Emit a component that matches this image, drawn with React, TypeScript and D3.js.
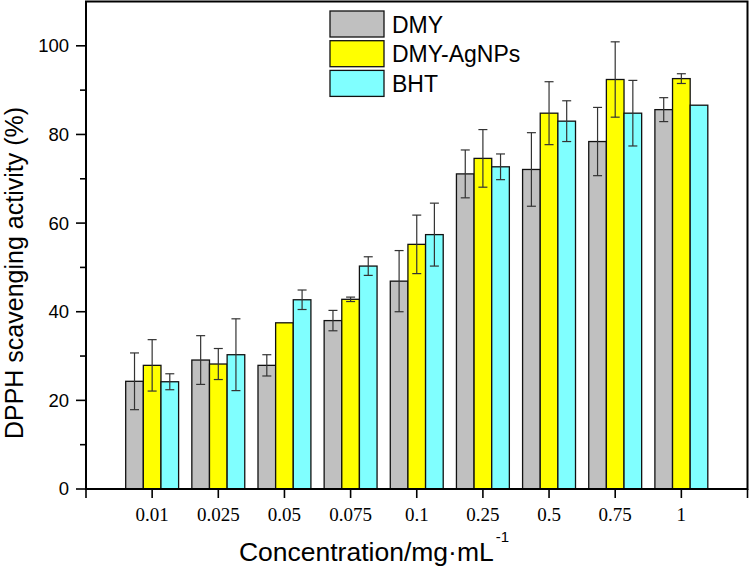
import * as React from 'react';
import * as d3 from 'd3';

const categories = ['0.01', '0.025', '0.05', '0.075', '0.1', '0.25', '0.5', '0.75', '1'];
const seriesNames = ['DMY', 'DMY-AgNPs', 'BHT'];
const seriesColors = ['#c0c0c0', '#ffff00', '#80ffff'];

const dmy = [24.3, 29.1, 27.9, 38.0, 46.9, 71.1, 72.1, 78.4, 85.6];
const dmyErr = [6.4, 5.5, 2.4, 2.3, 6.9, 5.4, 8.3, 7.7, 2.7];
const agnps = [27.9, 28.2, 37.5, 42.8, 55.2, 74.6, 84.8, 92.4, 92.6];
const agnpsErr = [5.8, 3.5, 0, 0.5, 6.6, 6.5, 7.1, 8.5, 1.1];
const bht = [24.2, 30.3, 42.7, 50.3, 57.4, 72.7, 83.0, 84.8, 86.6];
const bhtErr = [1.8, 8.1, 2.2, 2.1, 7.1, 2.9, 4.6, 7.4, 0];

const yMajorTicks = [0, 20, 40, 60, 80, 100];
const yMinorTicks = [10, 30, 50, 70, 90];

const values = [dmy, agnps, bht];
const errors = [dmyErr, agnpsErr, bhtErr];

const W = 750;
const H = 567;
const left = 86;
const right = 747.5;
const top = 1.5;
const bottom = 489;

const sans = '"Liberation Sans", Arial, sans-serif';
const serif = '"Liberation Serif", "Times New Roman", serif';

export default function App() {
  const x = d3.scaleLinear().domain([0, categories.length + 1]).range([left, right]);
  const y = d3.scaleLinear().domain([0, 110]).range([bottom, top]);
  const unit = x(1) - x(0);
  const groupW = unit * 0.8;
  const sub = d3
    .scaleBand<string>()
    .domain(seriesNames)
    .range([-groupW / 2, groupW / 2]);
  const bw = sub.bandwidth();
  const xTicks = d3.range(0, categories.length + 2);

  return (
    <svg
      width={W}
      height={H}
      style={{ position: 'absolute', left: 0, top: 0, background: '#fff' }}
    >
      {/* bars */}
      {categories.map((c, i) =>
        seriesNames.map((s, j) => {
          const bx = x(i + 1) + (sub(s) as number);
          const v = values[j][i];
          return (
            <rect
              key={c + s}
              x={bx}
              y={y(v)}
              width={bw}
              height={y(0) - y(v)}
              fill={seriesColors[j]}
              stroke='#111'
              strokeWidth={1.3}
            />
          );
        })
      )}

      {/* error bars */}
      {categories.map((c, i) =>
        seriesNames.map((s, j) => {
          const e = errors[j][i];
          if (!e) return null;
          const cx = x(i + 1) + (sub(s) as number) + bw / 2;
          const v = values[j][i];
          const y1 = y(v + e);
          const y2 = y(v - e);
          return (
            <g key={'e' + c + s} stroke='#333' strokeWidth={1.2}>
              <line x1={cx} x2={cx} y1={y1} y2={y2} />
              <line x1={cx - 4.5} x2={cx + 4.5} y1={y1} y2={y1} />
              <line x1={cx - 4.5} x2={cx + 4.5} y1={y2} y2={y2} />
            </g>
          );
        })
      )}

      {/* frame */}
      <rect
        x={left}
        y={top}
        width={right - left}
        height={bottom - top}
        fill='none'
        stroke='#000'
        strokeWidth={2}
      />

      {/* y axis ticks */}
      {yMajorTicks.map(t => (
        <g key={'y' + t}>
          <line x1={left - 10} x2={left} y1={y(t)} y2={y(t)} stroke='#000' strokeWidth={1.6} />
          <text
            x={left - 17}
            y={y(t)}
            dy='0.35em'
            textAnchor='end'
            fontFamily={sans}
            fontSize={18.5}
          >
            {t}
          </text>
        </g>
      ))}
      {yMinorTicks.map(t => (
        <line key={'ym' + t} x1={left - 6} x2={left} y1={y(t)} y2={y(t)} stroke='#000' strokeWidth={1.6} />
      ))}

      {/* x axis ticks */}
      {xTicks.map(t => (
        <line key={'x' + t} x1={x(t)} x2={x(t)} y1={bottom} y2={bottom + 9} stroke='#000' strokeWidth={1.6} />
      ))}
      {categories.map((c, i) => (
        <text
          key={'xl' + c}
          x={x(i + 1)}
          y={521}
          textAnchor='middle'
          fontFamily={serif}
          fontSize={19}
        >
          {c}
        </text>
      ))}

      {/* axis titles */}
      <text x={374} y={561} textAnchor='middle' fontFamily={sans} fontSize={26.5}>
        Concentration/mg·mL
        <tspan fontSize={15} dx={2} dy={-19}>-1</tspan>
      </text>
      <text
        transform={`translate(23, 273) rotate(-90)`}
        textAnchor='middle'
        fontFamily={sans}
        fontSize={25}
      >
        DPPH scavenging activity (%)
      </text>

      {/* legend */}
      {seriesNames.map((s, j) => (
        <g key={'lg' + s} transform={`translate(330, ${11 + j * 29.7})`}>
          <rect width={54} height={26} fill={seriesColors[j]} stroke='#111' strokeWidth={1.3} />
          <text x={62} y={21.5} fontFamily={sans} fontSize={23}>
            {s}
          </text>
        </g>
      ))}
    </svg>
  );
}
